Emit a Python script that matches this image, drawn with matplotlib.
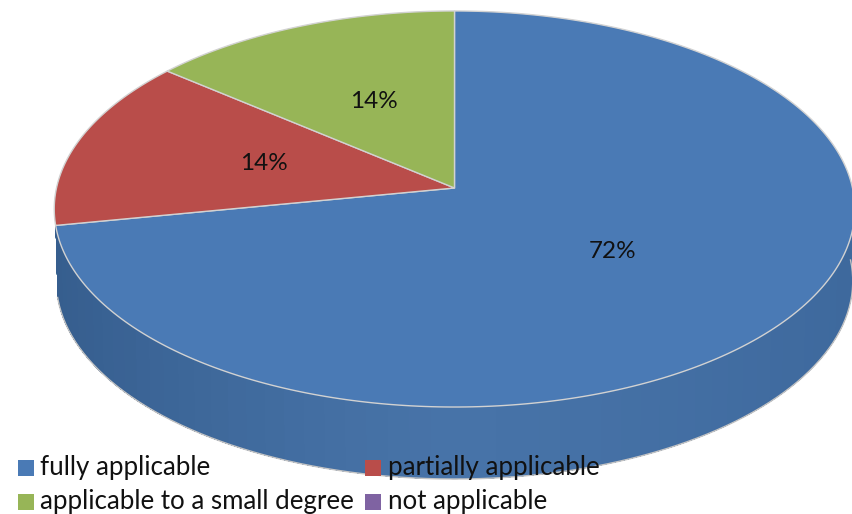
import numpy as np
import matplotlib.pyplot as plt
from matplotlib.patches import Rectangle

plt.rcParams["font.family"] = ["Lato", "DejaVu Sans"]

categories = ["fully applicable", "partially applicable",
              "applicable to a small degree", "not applicable"]
values = [72, 14, 14, 0]
colors = ["#4a7ab5", "#b94d4a", "#97b557", "#7f63a2"]

# layout of the tilted disc, in pixels
cx, cy = 454.5, 188
rx, ry = 398, 195.8
tilt = 0.106
depth = 72
base_shrink = 0.995


def rim(theta, shrink=1.0, drop=0):
  # theta runs clockwise from 12 o'clock, perspective shrinks the far side
  x = np.sin(theta)
  y = np.cos(theta)
  w = 1 + tilt * y
  return cx + shrink * rx * x / w, cy - ry * y / w + drop


fig = plt.figure(figsize=(8.52, 5.14), dpi=100)
ax = fig.add_axes([0, 0, 1, 1])
ax.set_xlim(0, 852)
ax.set_ylim(514, 0)
ax.axis("off")

edges = np.cumsum([0] + values) / sum(values) * 2 * np.pi

# side wall of the first slice, each strip runs on under the next one
# so no seams show between them
side_dark = np.array([0x36, 0x5e, 0x8e]) / 255
side_mid = np.array([0x47, 0x73, 0xa8]) / 255
side_right = np.array([0x3e, 0x69, 0x9d]) / 255
strips = np.linspace(np.pi / 2, edges[1], 61)
for a in strips[:-1]:
  t = np.linspace(a, edges[1], 120)
  x1, y1 = rim(t)
  x2, y2 = rim(t[::-1], base_shrink, depth)
  pos = (rim(a)[0] - cx) / rx
  if pos < 0:
    c = side_mid + (side_dark - side_mid) * abs(pos) ** 1.3
  else:
    c = side_mid + (side_right - side_mid) * pos ** 1.5
  ax.fill(np.r_[x1, x2], np.r_[y1, y2], facecolor=c, edgecolor="none", zorder=1)

t = np.linspace(np.pi / 2, edges[1], 200)
bx, by = rim(t, base_shrink, depth)
ax.plot(bx, by, color="#c4c4c4", lw=1, zorder=2)

# top face, one wedge per non-empty slice
for i, v in enumerate(values):
  if v == 0:
    continue
  t = np.linspace(edges[i], edges[i + 1], 300)
  x, y = rim(t)
  ax.fill(np.r_[cx, x], np.r_[cy, y], facecolor=colors[i],
          edgecolor="#d2d2d2", lw=1, zorder=3)

label_pos = [(613, 251), (264, 164), (374, 102)]
for v, (lx, ly) in zip(values, label_pos):
  ax.text(lx, ly, f"{v}%", fontsize=17.5, color="#111111",
          ha="center", va="center", zorder=5)

# legend placed by hand, two rows of two
legend_pos = [(18, 460, 40, 475), (365, 460, 388, 475),
              (18, 494, 40, 509), (365, 494, 388, 509)]
for name, c, (sx, sy, tx, ty) in zip(categories, colors, legend_pos):
  ax.add_patch(Rectangle((sx, sy), 16, 16, facecolor=c, edgecolor="none", zorder=6))
  ax.text(tx, ty, name, fontsize=18.6, color="#111111", ha="left",
          va="baseline", zorder=6)

fig.savefig("out.png", dpi=100)
